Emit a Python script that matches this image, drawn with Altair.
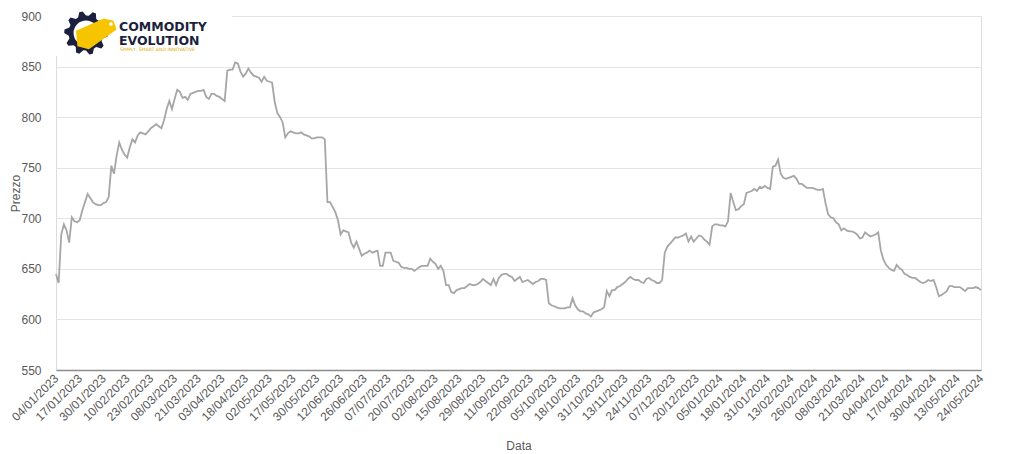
import math
import altair as alt
import pandas as pd

# ---------------- data ----------------
tick_labels = [
    "04/01/2023", "17/01/2023", "30/01/2023", "10/02/2023", "23/02/2023",
    "08/03/2023", "21/03/2023", "03/04/2023", "18/04/2023", "02/05/2023",
    "17/05/2023", "30/05/2023", "12/06/2023", "26/06/2023", "07/07/2023",
    "20/07/2023", "02/08/2023", "15/08/2023", "29/08/2023", "11/09/2023",
    "22/09/2023", "05/10/2023", "18/10/2023", "31/10/2023", "13/11/2023",
    "24/11/2023", "07/12/2023", "20/12/2023", "05/01/2024", "18/01/2024",
    "31/01/2024", "13/02/2024", "26/02/2024", "08/03/2024", "21/03/2024",
    "04/04/2024", "17/04/2024", "30/04/2024", "13/05/2024", "24/05/2024",
]

# one row per labelled date (9 trading days each)
prices = [
    645, 636, 684, 694, 688, 676, 701, 697, 696,
    698, 708, 716, 724, 720, 716, 714, 713, 713,
    715, 716, 721, 752, 744, 762, 775, 768, 763,
    760, 770, 778, 775, 782, 785, 784, 783, 786,
    789, 791, 793, 791, 789, 797, 808, 816, 808,
    818, 827, 825, 819, 820, 817, 823, 824, 825,
    826, 826, 827, 820, 818, 823, 823, 821, 820,
    818, 816, 846, 847, 847, 854, 853, 845, 840,
    843, 848, 844, 841, 840, 839, 835, 840, 836,
    835, 834, 815, 804, 800, 795, 780, 784, 786,
    785, 784, 784, 785, 783, 782, 781, 779, 779,
    780, 780, 780, 778, 716, 716, 711, 706, 698,
    684, 688, 687, 686, 676, 671, 677, 670, 663,
    665, 666, 668, 666, 667, 668, 653, 653, 666,
    666, 666, 658, 657, 656, 652, 651, 651, 650,
    650, 648, 650, 652, 653, 653, 653, 660, 657,
    655, 650, 653, 648, 634, 634, 627, 626, 629,
    630, 631, 631, 633, 635, 634, 634, 635, 637,
    640, 638, 636, 634, 640, 634, 641, 644, 645,
    645, 643, 642, 638, 640, 642, 637, 638, 639,
    637, 635, 637, 638, 640, 640, 639, 616, 614,
    613, 612, 611, 611, 611, 612, 612, 621, 614,
    610, 608, 608, 606, 605, 603, 607, 608, 609,
    610, 612, 628, 623, 629, 629, 632, 633, 635,
    637, 640, 642, 640, 639, 639, 637, 636, 640,
    641, 639, 638, 636, 636, 639, 666, 672, 675,
    678, 681, 681, 682, 683, 685, 677, 682, 677,
    680, 683, 682, 679, 677, 674, 692, 694, 694,
    693, 693, 692, 697, 725, 716, 708, 709, 712,
    714, 725, 726, 727, 729, 727, 731, 730, 732,
    730, 729, 751, 752, 758, 744, 740, 739, 740,
    741, 742, 739, 734, 734, 732, 730, 730, 730,
    729, 728, 728, 729, 715, 704, 701, 700, 696,
    694, 688, 690, 688, 687, 687, 686, 684, 680,
    681, 686, 684, 682, 683, 684, 686, 668, 659,
    654, 651, 649, 648, 654, 651, 649, 645, 644,
    642, 641, 641, 639, 637, 636, 637, 639, 638,
    639, 632, 623, 624, 626, 628, 633, 633, 632,
    632, 632, 630, 628, 631, 631, 631, 632, 631,
    629,
]

y_ticks = [550, 600, 650, 700, 750, 800, 850, 900]

df = pd.DataFrame({"idx": list(range(len(prices))), "prezzo": prices})
n = len(prices)
step = 9
label_js = "[" + ",".join("'" + s + "'" for s in tick_labels) + "]"

FONT = "Liberation Sans"
GREY_TXT = "#595959"
NAVY = "#1c1f3d"
YELLOW = "#f6c500"

line = alt.Chart(df).mark_line(color="#a6a6a6", strokeWidth=1.8).encode(
    x=alt.X(
        "idx:Q",
        scale=alt.Scale(domain=[0, n - 1], nice=False, zero=False),
        axis=alt.Axis(
            values=list(range(0, n, step)),
            labelExpr=label_js + "[round(datum.value/" + str(step) + ")]",
            labelAngle=-45,
            labelAlign="right",
            labelBaseline="middle",
            labelFontSize=12,
            labelFont=FONT,
            labelColor=GREY_TXT,
            labelPadding=6,
            labelOverlap=False,
            labelFlush=False,
            ticks=False,
            grid=False,
            domainColor="#8c8c8c",
            domainWidth=1.5,
            title="Data",
            titleFont=FONT,
            titleFontSize=12,
            titleFontWeight="normal",
            titleColor=GREY_TXT,
            titleBaseline="middle",
            titleY=75,
        ),
    ),
    y=alt.Y(
        "prezzo:Q",
        scale=alt.Scale(domain=[550, 900], nice=False, zero=False),
        axis=alt.Axis(
            values=y_ticks,
            grid=True,
            gridColor="#e4e4e4",
            gridWidth=1,
            domain=False,
            ticks=False,
            labelFontSize=12,
            labelFont=FONT,
            labelColor=GREY_TXT,
            labelPadding=15,
            title="Prezzo",
            titleFont=FONT,
            titleFontSize=12,
            titleFontWeight="normal",
            titleColor=GREY_TXT,
            titleBaseline="middle",
            titleX=-41,
            titleY=177,
        ),
    ),
)

# ---------------- logo (decoration) ----------------
one = pd.DataFrame({"k": [0]})

gear_pts = []
for j in range(40):
    a = 2 * math.pi * j / 40
    r = 1.0 if (j // 2) % 2 == 0 else 0.8
    gear_pts.append("%.3f %.3f" % (r * math.cos(a), r * math.sin(a)))
gear_path = "M" + " L".join(gear_pts) + " Z"
tag_path = "M-0.86 -0.10 L0.40 -0.66 L0.84 -0.56 L0.98 -0.16 L-0.28 0.74 L-0.80 0.60 Z"

logo_bg = alt.Chart(one).mark_rect(color="white").encode(
    x=alt.value(0), x2=alt.value(176), y=alt.value(-6), y2=alt.value(40)
)
gear = alt.Chart(one).mark_point(
    shape=gear_path, filled=True, color=NAVY, opacity=1, size=1900, strokeWidth=0
).encode(x=alt.value(30), y=alt.value(17))
gear_hole = alt.Chart(one).mark_point(
    shape="circle", filled=True, color="white", opacity=1, size=620, strokeWidth=0
).encode(x=alt.value(30), y=alt.value(17))
tag = alt.Chart(one).mark_point(
    shape=tag_path, filled=True, color=YELLOW, opacity=1, size=1936, strokeWidth=0
).encode(x=alt.value(39), y=alt.value(17))
tag_hole = alt.Chart(one).mark_point(
    shape="circle", filled=True, color="white", opacity=1, size=14, strokeWidth=0
).encode(x=alt.value(55), y=alt.value(8))

t1 = alt.Chart(one).mark_text(
    text="COMMODITY", font="DejaVu Sans", fontSize=12.5, fontWeight=600,
    color=NAVY, align="left", baseline="alphabetic"
).encode(x=alt.value(63), y=alt.value(15))
t2 = alt.Chart(one).mark_text(
    text="EVOLUTION", font="DejaVu Sans", fontSize=12.5, fontWeight=600,
    color=NAVY, align="left", baseline="alphabetic"
).encode(x=alt.value(63), y=alt.value(29))
t3 = alt.Chart(one).mark_text(
    text="SIMPLY, SMART AND INNOVATIVE", font="DejaVu Sans", fontSize=4.6,
    color="#d9ad00", align="left", baseline="alphabetic"
).encode(x=alt.value(64), y=alt.value(35))

chart = alt.layer(line, logo_bg, gear, gear_hole, tag, tag_hole, t1, t2, t3).properties(
    width=925,
    height=354,
    autosize=alt.AutoSizeParams(type="none"),
    padding={"left": 48, "top": 8, "right": 30, "bottom": 84},
).configure_view(stroke=None).configure(background="white")

chart.save("out.html", embed_options={"renderer": "svg", "actions": False})
